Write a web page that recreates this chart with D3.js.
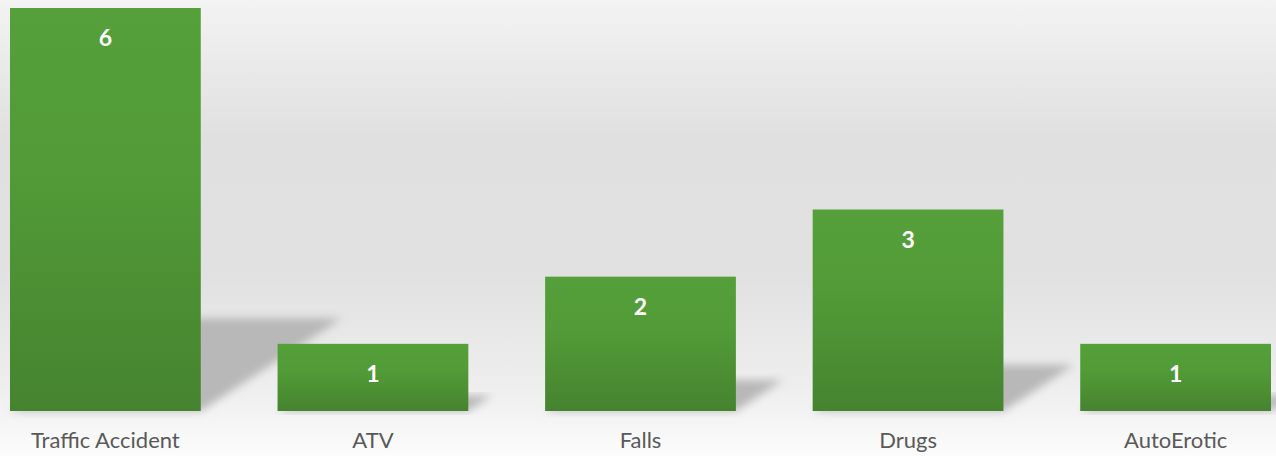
<!DOCTYPE html>
<html><head><meta charset="utf-8">
<script src="https://cdn.jsdelivr.net/npm/d3@7"></script>
<style>html,body{margin:0;padding:0;background:#fff;}svg{display:block;}</style>
</head><body>
<script>
const categories = ["Traffic Accident", "ATV", "Falls", "Drugs", "AutoErotic"];
const values = [6, 1, 2, 3, 1];

const W = 1276, H = 456;
const svg = d3.select("body").append("svg").attr("width", W).attr("height", H);
const defs = svg.append("defs");

const bg = defs.append("linearGradient").attr("id", "bg").attr("x1", 0).attr("y1", 0).attr("x2", 0).attr("y2", 1);
[[0, "#f3f3f3"], [0.3, "#e0e0e0"], [0.6, "#e1e1e1"], [0.85, "#eeeeee"], [1, "#fcfcfc"]]
  .forEach(([o, c]) => bg.append("stop").attr("offset", o).attr("stop-color", c));

const bar = defs.append("linearGradient").attr("id", "bar").attr("x1", 0).attr("y1", 0).attr("x2", 0).attr("y2", 1);
[[0, "#55a03a"], [0.4, "#529b38"], [1, "#46832f"]]
  .forEach(([o, c]) => bar.append("stop").attr("offset", o).attr("stop-color", c));

const blur = defs.append("filter").attr("id", "blur").attr("x", "-20%").attr("y", "-20%").attr("width", "140%").attr("height", "140%");
blur.append("feGaussianBlur").attr("stdDeviation", 4);

svg.append("rect").attr("width", W).attr("height", H).attr("fill", "url(#bg)");

const x = d3.scaleBand().domain(categories).range([10, 1271]).paddingInner(0.287).paddingOuter(0);
const y = d3.scaleLinear().domain([0, 6]).range([411, 8]);

const data = categories.map((c, i) => ({c, v: values[i]}));

// perspective shadows
svg.append("g").selectAll("path").data(data).join("path")
  .attr("filter", "url(#blur)")
  .attr("fill", "#b8b8b8")
  .attr("d", d => {
    const x0 = x(d.c), x1 = x0 + x.bandwidth(), b = y(0), h = y(0) - y(d.v);
    const dx = h * 0.35, dy = h * 0.23;
    return `M${x0},${b}L${x0 + dx},${b - dy}L${x1 + dx},${b - dy}L${x1},${b}Z`;
  });

svg.append("g").selectAll("rect").data(data).join("rect")
  .attr("x", d => x(d.c)).attr("y", d => y(d.v))
  .attr("width", x.bandwidth()).attr("height", d => y(0) - y(d.v))
  .attr("fill", "url(#bar)");

svg.append("g").selectAll("text").data(data).join("text")
  .attr("x", d => x(d.c) + x.bandwidth() / 2).attr("y", d => y(d.v) + 38)
  .attr("text-anchor", "middle").attr("fill", "#fff")
  .attr("font-family", "Lato, sans-serif").attr("font-weight", "bold").attr("font-size", 23)
  .text(d => d.v);

const xAxis = svg.append("g").attr("transform", `translate(0,${y(0)})`)
  .call(d3.axisBottom(x).tickSize(0).tickPadding(21));
xAxis.select(".domain").remove();
xAxis.selectAll("text").attr("fill", "#595959").attr("font-family", "Lato, sans-serif").attr("font-size", 22);
</script>
</body></html>
